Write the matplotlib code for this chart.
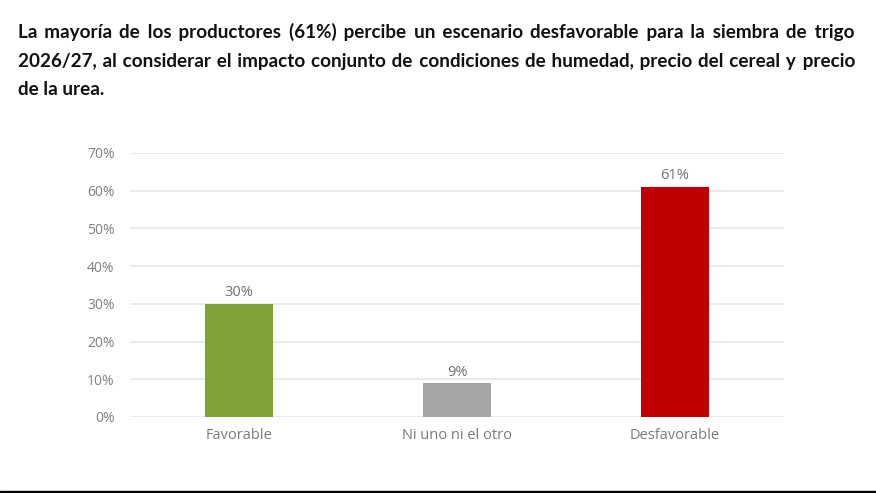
import matplotlib
matplotlib.use("Agg")
import matplotlib.pyplot as plt
from matplotlib.patches import Rectangle

# Data
categories = ["Favorable", "Ni uno ni el otro", "Desfavorable"]
values = [30, 9, 61]
colors = ["#7FA23A", "#A5A5A5", "#C00000"]
yticks = [0, 10, 20, 30, 40, 50, 60, 70]

title_lines = [
    "La mayoría de los productores (61%) percibe un escenario desfavorable para la siembra de trigo",
    "2026/27, al considerar el impacto conjunto de condiciones de humedad, precio del cereal y precio",
    "de la urea.",
]

W, H = 876, 493
fig = plt.figure(figsize=(W / 100, H / 100), dpi=100)
fig.patch.set_facecolor("white")

ax = fig.add_axes([130 / W, (H - 417) / H, 654 / W, 264 / H])
x = range(len(categories))
bars = ax.bar(x, values, width=0.31, color=colors, zorder=3)
ax.set_xlim(-0.5, 2.5)
ax.set_ylim(0, 70)
ax.set_yticks(yticks)
ax.set_yticklabels([f"{v}%" for v in yticks], color="#808080", fontsize=10, family="Open Sans")
ax.set_xticks(list(x))
ax.set_xticklabels(categories, color="#7a7a7a", fontsize=10.5, family="Open Sans")
ax.tick_params(axis="both", length=0)
ax.tick_params(axis="y", pad=11)
ax.tick_params(axis="x", pad=8)
ax.grid(axis="y", color="#e6e6e6", linewidth=1.2, zorder=0)
for s in ax.spines.values():
    s.set_visible(False)

for b, v in zip(bars, values):
    ax.annotate(f"{v}%", (b.get_x() + b.get_width() / 2, v), xytext=(0, 2.5),
                textcoords="offset points", ha="center", va="bottom",
                color="#707070", fontsize=10.5, family="Open Sans")

# justified title: one text per line, padding the gaps with hair spaces
fig.canvas.draw()
renderer = fig.canvas.get_renderer()
x0, x1 = 18, 855
baselines = [38, 67, 95]
fam = ["Lato", "DejaVu Sans"]


def text_width(s, fs):
    t = fig.text(0, 0, s, fontsize=fs, fontweight="bold", family=fam)
    w = t.get_window_extent(renderer).width
    t.remove()
    return w


fs = 12.0
natural = max(text_width(l, fs) for l in title_lines[:2])
fs = fs * (x1 - x0) / natural * 0.975

pad_char = "\u200a"
hw = text_width("a" + pad_char + "a", fs) - text_width("aa", fs)
if hw < 0.3:
    pad_char = "\u2009"
    hw = text_width("a" + pad_char + "a", fs) - text_width("aa", fs)

for i, line in enumerate(title_lines):
    words = line.split(" ")
    out = line
    if i < len(title_lines) - 1:
        extra = (x1 - x0) - text_width(line, fs)
        n = len(words) - 1
        total = max(0, int(round(extra / hw)))
        out = words[0]
        for k in range(n):
            cnt = (k + 1) * total // n - k * total // n
            out += " " + pad_char * cnt + words[k + 1]
    fig.text(x0 / W, (H - baselines[i]) / H, out, fontsize=fs, fontweight="bold",
             family=fam, va="baseline", ha="left", color="#111111")

# black strip at the bottom
fig.patches.append(Rectangle((0, 0), 1, 2 / H, transform=fig.transFigure,
                             color="black", zorder=10))

fig.savefig("out.png", dpi=100)
